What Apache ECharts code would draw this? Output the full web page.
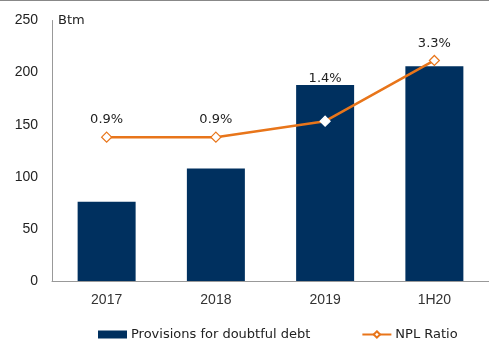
<!DOCTYPE html>
<html>
<head>
<meta charset="utf-8">
<script src="https://cdn.jsdelivr.net/npm/echarts@6/dist/echarts.min.js"></script>
<style>
  html, body { margin: 0; padding: 0; background: #fff; }
  #chart { width: 489px; height: 342px; }
</style>
</head>
<body>
<div id="chart"></div>
<script>
// data
const categories = ['2017', '2018', '2019', '1H20']
const provisions = [76, 108, 188, 206]
const nplRatio = [0.9, 0.9, 1.4, 3.3]
const yTicks = { min: 0, max: 250, interval: 50 }

const barColor = '#00305f'
const lineColor = '#e8751a'

const chart = echarts.init(document.getElementById('chart'))

// the 2019 label sits above the bar, not right above the point
const lineData = nplRatio.map((v, i) => {
  const item = { value: v }
  if (i === 2) {
    item.label = { distance: 30 }
    item.itemStyle = { borderColor: '#fff' }
  }
  return item
})

chart.setOption({
  animation: false,
  grid: { left: 52, right: 0, top: 20.5, bottom: 61 },
  legend: {
    top: 323,
    left: 93,
    itemWidth: 29,
    itemHeight: 8,
    itemGap: 51,
    textStyle: { fontFamily: 'DejaVu Sans', fontSize: 13, color: '#222', padding: [0, 0, 0, -1] },
    data: [
      { name: 'Provisions for doubtful debt', icon: 'rect' },
      { name: 'NPL Ratio' }
    ]
  },
  xAxis: {
    type: 'category',
    data: categories,
    axisLine: { lineStyle: { color: '#999', width: 1 } },
    axisTick: { show: false },
    axisLabel: { margin: 12, fontFamily: 'Liberation Sans', fontSize: 14, color: '#333' }
  },
  yAxis: [
    {
      type: 'value',
      min: yTicks.min,
      max: yTicks.max,
      interval: yTicks.interval,
      name: 'Btm',
      nameLocation: 'end',
      nameGap: 0,
      nameTextStyle: {
        align: 'left',
        verticalAlign: 'middle',
        padding: [0, 0, 0, 6],
        fontFamily: 'DejaVu Sans',
        fontSize: 13,
        color: '#222'
      },
      axisLine: { show: true, lineStyle: { color: '#999', width: 1 } },
      axisTick: { show: false },
      splitLine: { show: false },
      axisLabel: { margin: 14, fontFamily: 'Liberation Sans', fontSize: 14, color: '#222' }
    },
    {
      type: 'value',
      min: -3.6,
      max: 4.55,
      show: false,
      splitLine: { show: false }
    }
  ],
  series: [
    {
      name: 'Provisions for doubtful debt',
      type: 'bar',
      data: provisions,
      barWidth: 58,
      itemStyle: { color: barColor }
    },
    {
      name: 'NPL Ratio',
      type: 'line',
      yAxisIndex: 1,
      data: lineData,
      symbol: 'diamond',
      symbolSize: 10,
      showAllSymbol: true,
      lineStyle: { color: lineColor, width: 2.5 },
      itemStyle: { color: '#fff', borderColor: lineColor, borderWidth: 1.2 },
      label: {
        show: true,
        position: 'top',
        distance: 5,
        formatter: '{c}%',
        fontFamily: 'DejaVu Sans',
        fontSize: 13,
        color: '#222'
      }
    }
  ],
  graphic: [
    {
      type: 'line',
      shape: { x1: 0, y1: 0.5, x2: 489, y2: 0.5 },
      style: { stroke: '#888', lineWidth: 1 }
    }
  ]
})
</script>
</body>
</html>
